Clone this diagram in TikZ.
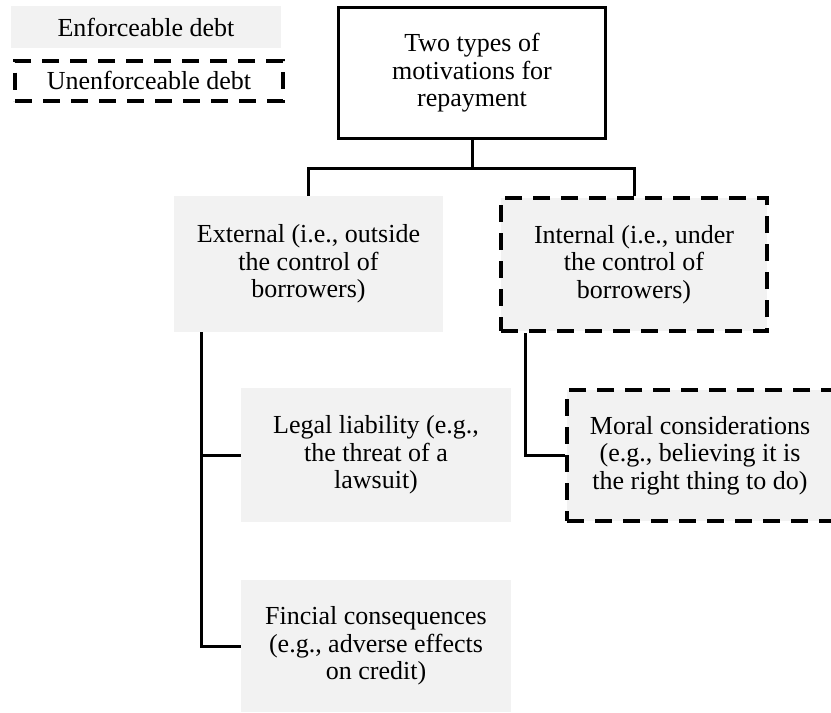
\documentclass[tikz,border=0pt]{standalone}
\usepackage{fontspec}
\setmainfont{Liberation Serif}
\usepackage{tikz}
\definecolor{boxgray}{RGB}{242,242,242}

\begin{document}
\begin{tikzpicture}[x=0.5pt,y=-0.5pt,
    box/.style={rectangle,inner sep=0pt,align=center,
      font=\fontsize{13}{13.75}\selectfont},
    enforced/.style={box,fill=boxgray},
    unenforced/.style={box,draw,line width=2pt,dash pattern=on 8.5pt off 5.5pt},
    rootbox/.style={box,draw,line width=1.5pt,fill=white},
    conn/.style={draw,line width=1.5pt}]
        \useasboundingbox (0,0) rectangle (831,713);
        % legend
        \node[enforced,minimum width=135pt,minimum height=21pt] (enf) at (146,27) {Enforceable debt};
        \node[unenforced,fill=white,minimum width=134pt,minimum height=20pt] (unenf) at (149,80.5) {Unenforceable debt};
        % tree
        \node[rootbox,minimum width=133.5pt,minimum height=65.5pt] (root) at (472,73) {Two types of\\motivations for\\repayment};
        \node[enforced,minimum width=134.5pt,minimum height=68pt] (ext) at (308.5,264) {External (i.e., outside\\the control of\\borrowers)};
        \node[unenforced,fill=boxgray,minimum width=133pt,minimum height=66.5pt] (int) at (634,264.5) {Internal (i.e., under\\the control of\\borrowers)};
        \node[enforced,minimum width=135pt,minimum height=67pt] (legal) at (376,455) {Legal liability (e.g.,\\the threat of a\\lawsuit)};
        \node[enforced,minimum width=135pt,minimum height=66pt] (fin) at (376,646) {Fincial consequences\\(e.g., adverse effects\\on credit)};
        \node[unenforced,fill=boxgray,minimum width=133pt,minimum height=65.5pt] (moral) at (700,455.5) {Moral considerations\\(e.g., believing it is\\the right thing to do)};
        % connectors
        \draw[conn] (root.south) -- ++(0,28) coordinate (bus) -| (ext.north);
        \draw[conn] (bus) -| (int.north);
        \draw[conn] ([xshift=14pt]ext.south west) |- (legal.west);
        \draw[conn] ([xshift=14pt]ext.south west) |- (fin.west);
        \draw[conn] ([xshift=13pt]int.south west) |- (moral.west);
    \end{tikzpicture}
\end{document}
